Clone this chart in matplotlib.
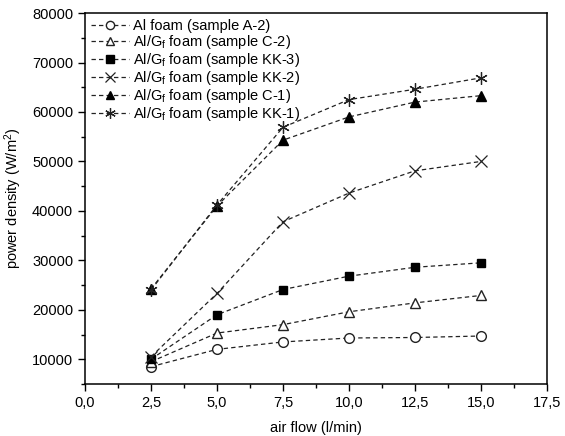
import matplotlib
matplotlib.use("Agg")
import matplotlib.pyplot as plt
from matplotlib.ticker import MultipleLocator, FuncFormatter

plt.rcParams['font.family'] = ['Liberation Sans', 'DejaVu Sans']
plt.rcParams['mathtext.fontset'] = 'custom'
plt.rcParams['mathtext.rm'] = 'Liberation Sans'
plt.rcParams['mathtext.it'] = 'Liberation Sans:italic'

air_flow = [2.5, 5.0, 7.5, 10.0, 12.5, 15.0]
a2 = [8500, 12000, 13500, 14300, 14400, 14700]
c2 = [9500, 15300, 17000, 19600, 21400, 22900]
kk3 = [10000, 19000, 24100, 26800, 28600, 29500]
kk2 = [10500, 23300, 37800, 43600, 48100, 50000]
c1 = [24200, 41000, 54300, 59000, 62000, 63300]
kk1 = [24000, 41200, 56900, 62500, 64600, 66900]

labels = [
    "Al foam (sample A-2)",
    "Al/G$_{\\mathrm{f}}$ foam (sample C-2)",
    "Al/G$_{\\mathrm{f}}$ foam (sample KK-3)",
    "Al/G$_{\\mathrm{f}}$ foam (sample KK-2)",
    "Al/G$_{\\mathrm{f}}$ foam (sample C-1)",
    "Al/G$_{\\mathrm{f}}$ foam (sample KK-1)",
]
series = [a2, c2, kk3, kk2, c1, kk1]
styles = [
    dict(marker='o', mfc='white', mec='#222222', ms=7),
    dict(marker='^', mfc='white', mec='#222222', ms=7.5),
    dict(marker='s', mfc='black', mec='black', ms=6),
    dict(marker='x', mfc='none', mec='#222222', ms=8, mew=0.9),
    dict(marker='^', mfc='black', mec='black', ms=7.5),
    dict(marker=(6, 2, 0), mfc='none', mec='#222222', ms=9, mew=0.9),
]

fig = plt.figure(figsize=(5.65, 4.36), dpi=100)
ax = fig.add_axes([0.1504, 0.1193, 0.8176, 0.8507])

for y, lab, st in zip(series, labels, styles):
    ax.plot(air_flow, y, linestyle=(0, (3.5, 2.5)), color='#222222', lw=0.9,
            label=lab, **st)

ax.set_xlim(0, 17.5)
ax.set_ylim(5000, 80000)
ax.xaxis.set_major_locator(MultipleLocator(2.5))
ax.xaxis.set_minor_locator(MultipleLocator(1.25))
ax.yaxis.set_major_locator(MultipleLocator(10000))
ax.yaxis.set_minor_locator(MultipleLocator(5000))
ax.xaxis.set_major_formatter(FuncFormatter(lambda v, p: f"{v:.1f}".replace('.', ',')))
ax.yaxis.set_major_formatter(FuncFormatter(lambda v, p: f"{int(v)}"))
ax.tick_params(axis='both', which='major', direction='out', length=5, width=1,
               labelsize=10.5, top=False, right=False)
ax.tick_params(axis='both', which='minor', direction='out', length=3, width=1,
               top=False, right=False)
for s in ax.spines.values():
    s.set_linewidth(1.1)

ax.set_xlabel("air flow (l/min)", fontsize=10.5, labelpad=8)
ax.set_ylabel("power density (W/m$^2$)", fontsize=10.5, labelpad=6)

leg = ax.legend(loc='upper left', frameon=False, fontsize=10.5, labelspacing=0.0,
                handlelength=2.6, handletextpad=0.3, borderaxespad=0.2,
                borderpad=0.2, markerscale=0.85)

fig.savefig("out.png", dpi=100)
